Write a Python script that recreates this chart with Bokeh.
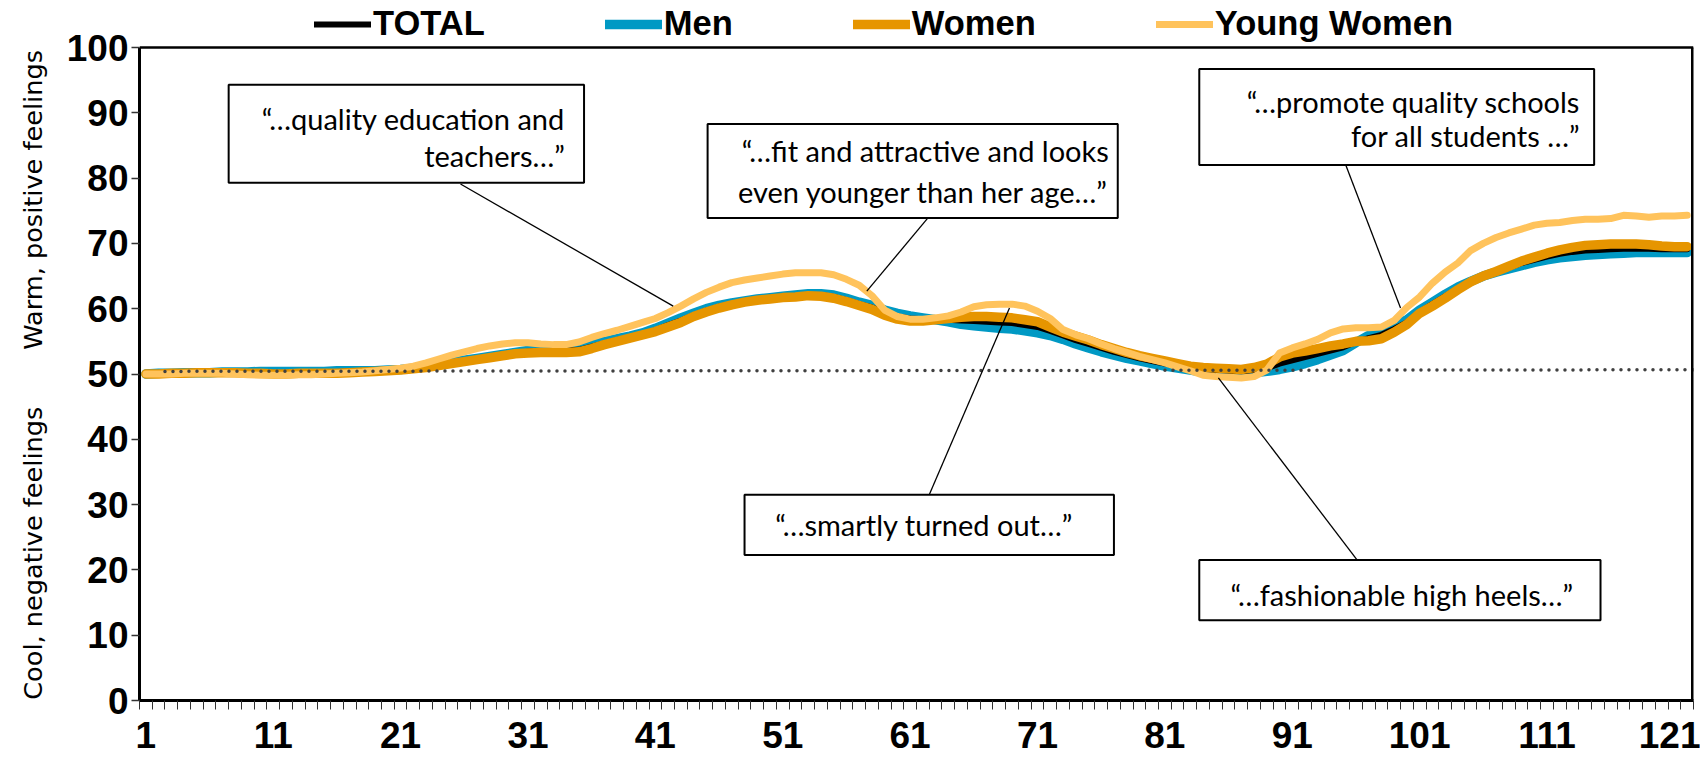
from bokeh.plotting import figure
from bokeh.models import (ColumnDataSource, FixedTicker, Range1d, Legend, LegendItem)
from bokeh.embed import file_html
from bokeh.resources import INLINE
from bokeh.core.properties import value

# ---------------- data ----------------
moment = list(range(1, 123))

total = [50.0, 50.1, 50.1, 50.2, 50.2, 50.2, 50.3, 50.3, 50.2, 50.3,
         50.2, 50.2, 50.3, 50.3, 50.3, 50.3, 50.4, 50.4, 50.5, 50.6,
         50.7, 50.9, 51.1, 51.4, 51.7, 52.0, 52.3, 52.6, 52.9, 53.2,
         53.4, 53.5, 53.6, 53.6, 53.7, 54.2, 54.7, 55.2, 55.6, 56.1,
         56.7, 57.5, 58.2, 59.0, 59.7, 60.3, 60.7, 61.1, 61.4, 61.6,
         61.8, 61.9, 62.1, 62.1, 61.8, 61.3, 60.7, 60.2, 59.4, 58.8,
         58.5, 58.4, 58.3, 58.3, 58.2, 58.1, 58.0, 57.9, 57.8, 57.5,
         57.2, 56.6, 55.9, 55.2, 54.6, 54.0, 53.4, 52.9, 52.4, 52.0,
         51.6, 51.3, 50.9, 50.7, 50.6, 50.5, 50.4, 50.6, 50.9, 51.6,
         52.1, 52.6, 53.1, 53.6, 54.1, 54.9, 55.5, 56.0, 56.9, 57.9,
         59.5, 60.7, 61.9, 63.1, 64.2, 65.0, 65.7, 66.3, 67.0, 67.5,
         68.0, 68.4, 68.7, 68.9, 69.0, 69.1, 69.2, 69.2, 69.2, 69.1,
         69.1, 69.1]

men = [50.0, 50.1, 50.1, 50.2, 50.2, 50.2, 50.3, 50.3, 50.3, 50.4,
       50.4, 50.4, 50.4, 50.4, 50.4, 50.5, 50.5, 50.5, 50.5, 50.6,
       50.7, 50.9, 51.2, 51.5, 51.8, 52.1, 52.4, 52.7, 53.0, 53.3,
       53.6, 53.8, 53.9, 54.0, 54.1, 54.5, 55.0, 55.4, 55.8, 56.3,
       57.0, 57.8, 58.6, 59.3, 60.0, 60.5, 60.9, 61.2, 61.5, 61.7,
       61.9, 62.1, 62.3, 62.3, 62.1, 61.6, 61.0, 60.5, 59.8, 59.3,
       58.9, 58.6, 58.3, 58.0, 57.6, 57.4, 57.2, 57.0, 56.9, 56.6,
       56.3, 55.9, 55.3, 54.6, 54.0, 53.4, 52.9, 52.4, 52.0, 51.6,
       51.2, 50.9, 50.6, 50.3, 50.2, 50.1, 50.1, 50.2, 50.4, 50.7,
       51.1, 51.6, 52.2, 52.9, 53.6, 54.8, 55.9, 56.6, 57.4, 58.3,
       59.8, 61.0, 62.2, 63.3, 64.2, 65.0, 65.6, 66.1, 66.6, 67.1,
       67.5, 67.8, 68.0, 68.2, 68.3, 68.4, 68.5, 68.6, 68.6, 68.6,
       68.6, 68.6]

women = [50.0, 50.0, 50.1, 50.1, 50.2, 50.2, 50.2, 50.2, 50.1, 50.1,
         50.0, 50.0, 50.1, 50.1, 50.1, 50.1, 50.2, 50.3, 50.4, 50.5,
         50.6, 50.8, 51.0, 51.3, 51.6, 51.9, 52.2, 52.5, 52.8, 53.1,
         53.2, 53.3, 53.3, 53.3, 53.4, 53.9, 54.5, 55.0, 55.5, 56.0,
         56.5, 57.2, 57.9, 58.8, 59.5, 60.1, 60.6, 61.0, 61.3, 61.5,
         61.7, 61.8, 62.0, 61.9, 61.6, 61.1, 60.5, 59.9, 59.0, 58.4,
         58.1, 58.1, 58.3, 58.5, 58.7, 58.8, 58.8, 58.7, 58.6, 58.3,
         58.0, 57.2, 56.4, 55.8, 55.2, 54.5, 53.9, 53.3, 52.8, 52.4,
         52.0, 51.6, 51.2, 51.0, 50.9, 50.8, 50.7, 51.0, 51.5, 52.6,
         53.2, 53.5, 53.9, 54.3, 54.6, 55.0, 55.1, 55.4, 56.4, 57.6,
         59.3, 60.4, 61.6, 62.9, 64.1, 65.0, 65.7, 66.5, 67.3, 67.9,
         68.5, 69.0, 69.4, 69.7, 69.8, 69.9, 69.9, 69.9, 69.8, 69.6,
         69.5, 69.5]

young_women = [50.0, 50.0, 50.0, 50.1, 50.1, 50.1, 50.1, 50.0, 49.9, 49.8,
               49.8, 49.8, 49.9, 49.9, 50.0, 50.1, 50.2, 50.3, 50.5, 50.7,
               50.9, 51.2, 51.7, 52.3, 52.9, 53.4, 53.9, 54.3, 54.6, 54.8,
               54.8, 54.6, 54.5, 54.5, 54.9, 55.6, 56.2, 56.7, 57.3, 57.9,
               58.5, 59.4, 60.4, 61.5, 62.5, 63.3, 64.0, 64.4, 64.7, 65.0,
               65.3, 65.5, 65.5, 65.5, 65.2, 64.5, 63.6, 62.0, 59.8, 58.8,
               58.4, 58.4, 58.6, 58.9, 59.5, 60.3, 60.6, 60.7, 60.7, 60.4,
               59.6, 58.5, 56.8, 56.0, 55.4, 54.6, 53.9, 53.3, 52.7, 52.2,
               51.7, 51.1, 50.5, 49.8, 49.6, 49.5, 49.4, 49.6, 50.6, 53.2,
               54.0, 54.6, 55.3, 56.3, 56.9, 57.1, 57.1, 57.2, 58.2, 60.2,
               61.8, 63.9, 65.6, 67.0, 68.9, 70.0, 70.9, 71.6, 72.2, 72.8,
               73.1, 73.2, 73.5, 73.7, 73.7, 73.8, 74.3, 74.2, 74.0, 74.2,
               74.2, 74.3]

x_tick_labels = [1, 11, 21, 31, 41, 51, 61, 71, 81, 91, 101, 111, 121]
y_ticks = [0, 10, 20, 30, 40, 50, 60, 70, 80, 90, 100]

warm_title = "Warm, positive feelings"
cool_title = "Cool, negative feelings"

# neutral reference (dotted) line
ref_x = [2.5, 122.5]
ref_y = [50.4, 50.65]

# annotation call-outs
box_left = [7.5, 45.1, 83.7, 48.0, 83.7]
box_right = [35.4, 77.3, 114.7, 77.0, 115.2]
box_top = [94.3, 88.3, 96.7, 31.5, 21.5]
box_bottom = [79.3, 73.9, 82.0, 22.3, 12.3]

note_text = ["\u201c\u2026quality education and", "teachers\u2026\u201d",
             "\u201c\u2026fit and attractive and looks", "even younger than her age\u2026\u201d",
             "\u201c\u2026promote quality schools", "for all students \u2026\u201d",
             "\u201c\u2026smartly turned out\u2026\u201d",
             "\u201c\u2026fashionable high heels\u2026\u201d"]
note_x = [33.9, 33.9, 76.6, 76.6, 113.6, 113.6, 62.1, 99.6]
note_y = [89.1, 83.4, 84.2, 77.9, 91.8, 86.5, 26.9, 16.3]
note_align = ["right", "right", "right", "right", "right", "right", "center", "center"]

ptr_x0 = [25.7, 62.4, 95.2, 62.5, 96.1]
ptr_y0 = [79.1, 73.9, 82.0, 31.5, 21.5]
ptr_x1 = [42.4, 57.6, 99.5, 68.8, 85.2]
ptr_y1 = [60.4, 62.7, 60.1, 60.1, 49.4]

# ---------------- figure ----------------
X0, X1 = 0.5, len(moment) + 0.5
Y0, Y1 = y_ticks[0], y_ticks[-1]
# the frame reaches up to the canvas top so that the legend row above the box is not clipped
p = figure(frame_width=1554, frame_height=700,
           x_range=Range1d(X0, X1), y_range=Range1d(Y0, 107.2),
           output_backend="svg", toolbar_location=None,
           min_border_left=139, min_border_right=7,
           min_border_top=0, min_border_bottom=64)
p.grid.visible = False
p.outline_line_color = None
p.background_fill_color = "white"
p.border_fill_color = "white"

src = ColumnDataSource(dict(x=moment, total=total, men=men, women=women, young=young_women))

r_men = p.line("x", "men", source=src, line_color="#0099C4", line_width=9.5,
               line_join="round", line_cap="round")
r_total = p.line("x", "total", source=src, line_color="black", line_width=6,
                 line_join="round", line_cap="round")
r_women = p.line("x", "women", source=src, line_color="#E69500", line_width=9.5,
                 line_join="round", line_cap="round")
r_young = p.line("x", "young", source=src, line_color="#FFC35C", line_width=7,
                 line_join="round", line_cap="round")

p.line(ref_x, ref_y, line_color="#404040", line_width=3.5, line_dash="0 8", line_cap="round")

# top and right edges of the plot box
p.line([X0, X1], [Y1, Y1], line_color="black", line_width=2.5)
p.line([X1, X1], [Y0, Y1], line_color="black", line_width=5)

# call-outs
p.segment(ptr_x0, ptr_y0, ptr_x1, ptr_y1, line_color="black", line_width=1.3)
p.quad(left=box_left, right=box_right, top=box_top, bottom=box_bottom,
       fill_color="white", line_color="black", line_width=2)
nsrc = ColumnDataSource(dict(x=note_x, y=note_y, t=note_text, a=note_align))
p.text("x", "y", text="t", source=nsrc, text_align="a", text_baseline="middle",
       text_font=value("Lato"), text_font_size="29px", text_color="black")

# axes
p.yaxis.bounds = (Y0, Y1)
p.yaxis.ticker = FixedTicker(ticks=y_ticks, minor_ticks=[])
p.yaxis.axis_line_width = 3
p.yaxis.axis_line_color = "black"
p.yaxis.major_tick_out = 8
p.yaxis.major_tick_in = 0
p.yaxis.major_tick_line_width = 1.5
p.yaxis.major_tick_line_color = "#333333"
p.yaxis.minor_tick_line_color = None
p.yaxis.major_label_standoff = 3
p.yaxis.major_label_text_font = "Liberation Sans"
p.yaxis.major_label_text_font_style = "bold"
p.yaxis.major_label_text_font_size = "37px"
p.yaxis.major_label_text_color = "black"
# the two side titles share the left axis label: "Cool..." at the bottom, "Warm..." at the top
p.yaxis.axis_label = cool_title + "\u00a0" * 7 + warm_title + "\u00a0" * 6
p.yaxis.axis_label_text_font = "DejaVu Sans"
p.yaxis.axis_label_text_font_style = "normal"
p.yaxis.axis_label_text_font_size = "25.6px"
p.yaxis.axis_label_text_color = "black"
p.yaxis.axis_label_standoff = 16

p.xaxis.ticker = FixedTicker(ticks=x_tick_labels,
                             minor_ticks=[k + 0.5 for k in range(0, len(moment) + 1)])
p.xaxis.axis_line_width = 3
p.xaxis.axis_line_color = "black"
p.xaxis.major_tick_line_color = None
p.xaxis.major_tick_out = 9
p.xaxis.major_tick_in = 0
p.xaxis.minor_tick_out = 9
p.xaxis.minor_tick_in = 0
p.xaxis.minor_tick_line_color = "#333333"
p.xaxis.minor_tick_line_width = 1
p.xaxis.major_label_standoff = 12
p.xaxis.major_label_text_font = "Liberation Sans"
p.xaxis.major_label_text_font_style = "bold"
p.xaxis.major_label_text_font_size = "37px"
p.xaxis.major_label_text_color = "black"

# legend row above the box
legend = Legend(items=[LegendItem(label="TOTAL", renderers=[r_total]),
                       LegendItem(label="Men", renderers=[r_men]),
                       LegendItem(label="Women", renderers=[r_women]),
                       LegendItem(label="Young Women", renderers=[r_young])],
                orientation="horizontal", location=(175, 657),
                padding=0, margin=0, spacing=120,
                glyph_width=57, glyph_height=20, label_height=20, label_standoff=2,
                border_line_color=None, background_fill_alpha=0,
                label_text_font="Liberation Sans", label_text_font_style="bold",
                label_text_font_size="34.5px", label_text_color="black")
p.add_layout(legend)

open("out.html", "w").write(file_html(p, INLINE))
